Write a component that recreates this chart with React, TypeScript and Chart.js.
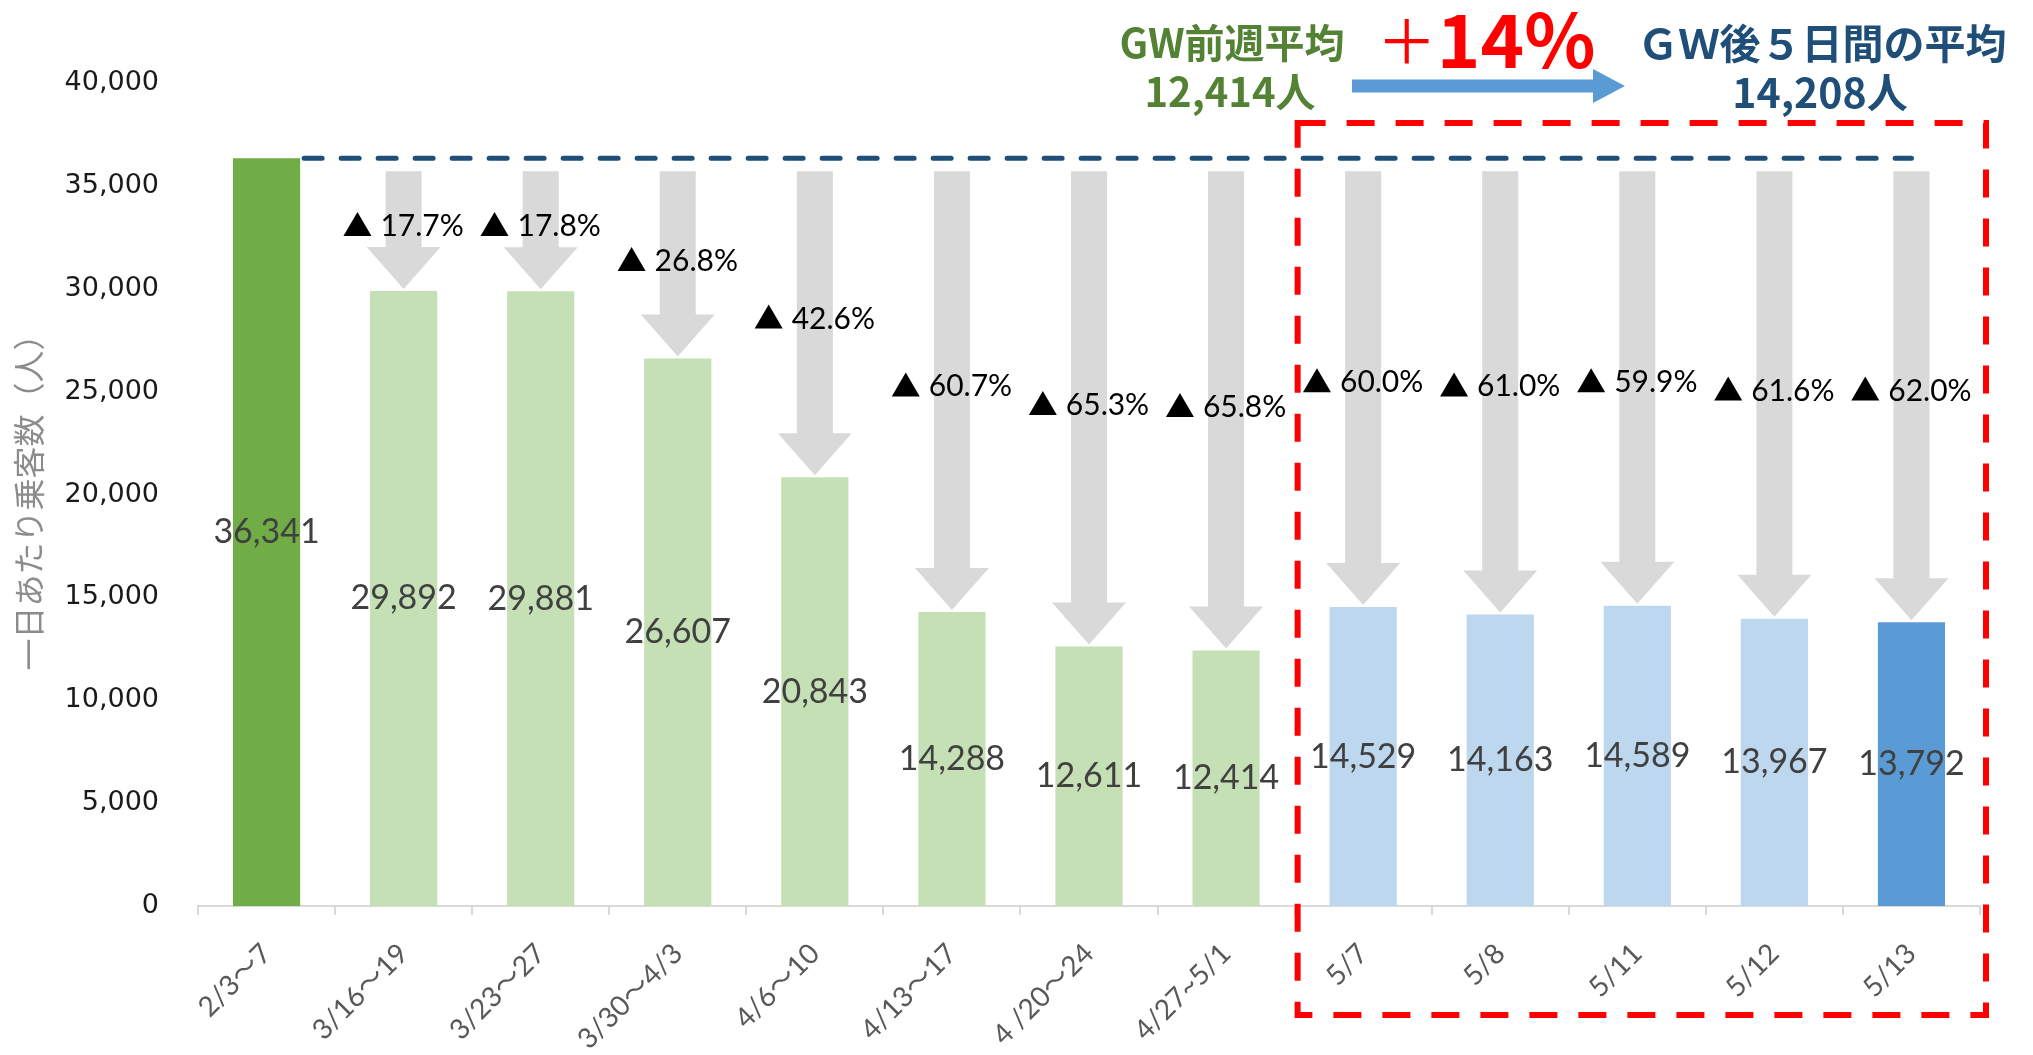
import React, { useEffect, useRef } from 'react';
import { Chart, registerables } from 'chart.js';

Chart.register(...registerables);

// ---- data ----
const categories = ['2/3～7', '3/16～19', '3/23～27', '3/30～4/3', '4/6～10', '4/13～17', '4 /20～24', '4/27~5/1', '5/7', '5/8', '5/11', '5/12', '5/13'];
const riders = [36341, 29892, 29881, 26607, 20843, 14288, 12611, 12414, 14529, 14163, 14589, 13967, 13792];
const dropPercents = [null, 17.7, 17.8, 26.8, 42.6, 60.7, 65.3, 65.8, 60.0, 61.0, 59.9, 61.6, 62.0];
const dropLabelLevels = [null, 33100, 33100, 31400, 28600, 25300, 24400, 24300, 25500, 25300, 25500, 25100, 25100];
const barColors = ['#70ad47', '#c5e0b4', '#c5e0b4', '#c5e0b4', '#c5e0b4', '#c5e0b4', '#c5e0b4', '#c5e0b4', '#bdd7ee', '#bdd7ee', '#bdd7ee', '#bdd7ee', '#5b9bd5'];
const yTickValues = [0, 5000, 10000, 15000, 20000, 25000, 30000, 35000, 40000];
const beforeLabel = 'GW前週平均';
const beforeAvg = 12414;
const afterLabel = 'ＧＷ後５日間の平均';
const afterAvg = 14208;
const changePct = 14;
const yTitle = '一日あたり乗客数（人）';

const W = 2033;
const H = 1055;
const fmt = (v: number) => v.toLocaleString('en-US');

const overlayPlugin = {
  id: 'overlay',
  beforeDatasetsDraw(chart: any) {
    const { ctx, scales } = chart;
    const x = scales.x;
    const y = scales.y;
    const baseY = y.getPixelForValue(riders[0]);
    ctx.save();
    ctx.fillStyle = '#d9d9d9';
    const shaftW = 36;
    const headW = 74;
    const headH = 42;
    for (let i = 1; i < riders.length; i++) {
      const cx = x.getPixelForValue(i);
      const top = baseY + 13;
      const tip = y.getPixelForValue(riders[i]) - 2;
      ctx.beginPath();
      ctx.moveTo(cx - shaftW / 2, top);
      ctx.lineTo(cx + shaftW / 2, top);
      ctx.lineTo(cx + shaftW / 2, tip - headH);
      ctx.lineTo(cx + headW / 2, tip - headH);
      ctx.lineTo(cx, tip);
      ctx.lineTo(cx - headW / 2, tip - headH);
      ctx.lineTo(cx - shaftW / 2, tip - headH);
      ctx.closePath();
      ctx.fill();
    }
    ctx.restore();
  },
  afterDatasetsDraw(chart: any) {
    const { ctx, scales, chartArea } = chart;
    const x = scales.x;
    const y = scales.y;
    const meta = chart.getDatasetMeta(0);
    ctx.save();

    // dashed reference line at first bar level
    const first = meta.data[0];
    const refY = y.getPixelForValue(riders[0]);
    ctx.strokeStyle = '#1f4e79';
    ctx.lineWidth = 5;
    ctx.lineCap = 'round';
    ctx.setLineDash([18, 19]);
    ctx.beginPath();
    ctx.moveTo(first.x + first.width / 2 + 4, refY);
    ctx.lineTo(x.getPixelForValue(riders.length - 1), refY);
    ctx.stroke();
    ctx.setLineDash([]);
    ctx.lineCap = 'butt';

    // value labels in bars
    ctx.fillStyle = '#404040';
    ctx.font = '34px Lato, "Noto Sans", sans-serif';
    ctx.textAlign = 'center';
    ctx.textBaseline = 'middle';
    meta.data.forEach((bar: any, i: number) => {
      ctx.fillText(fmt(riders[i]), bar.x, (bar.y + bar.base) / 2);
    });

    // percentage drop labels
    ctx.font = '30px Lato, "Noto Sans", sans-serif';
    ctx.textAlign = 'left';
    ctx.textBaseline = 'alphabetic';
    for (let i = 1; i < riders.length; i++) {
      const p = dropPercents[i];
      const lvl = dropLabelLevels[i];
      if (p == null || lvl == null) continue;
      const text = p.toFixed(1) + '%';
      const tw = ctx.measureText(text).width;
      const triW = 28;
      const gap = 9;
      const total = triW + gap + tw;
      const cx = x.getPixelForValue(i);
      const cy = y.getPixelForValue(lvl);
      const sx = cx - total / 2;
      const base = cy + 11;
      ctx.fillStyle = '#000000';
      ctx.beginPath();
      ctx.moveTo(sx, base);
      ctx.lineTo(sx + triW, base);
      ctx.lineTo(sx + triW / 2, base - 24);
      ctx.closePath();
      ctx.fill();
      ctx.fillText(text, sx + triW + gap, base);
    }

    // red dashed frame around post-GW days
    const left = (x.getPixelForValue(7) + x.getPixelForValue(8)) / 2 + 3;
    ctx.strokeStyle = '#ff0000';
    ctx.lineWidth = 6;
    ctx.setLineDash([28, 21]);
    ctx.strokeRect(left, 123, chartArea.right + 6 - left, 1015 - 123);
    ctx.setLineDash([]);
    ctx.restore();
  },
  afterDraw(chart: any) {
    const { ctx } = chart;
    ctx.save();
    ctx.textAlign = 'center';
    ctx.textBaseline = 'middle';
    const cjk = '"Noto Sans CJK JP", "Noto Sans", sans-serif';

    ctx.fillStyle = '#548235';
    ctx.font = `bold 40px ${cjk}`;
    ctx.fillText(beforeLabel, 1232, 43);
    ctx.fillText(fmt(beforeAvg) + '人', 1230, 92);

    ctx.fillStyle = '#1f4e79';
    ctx.font = `bold 41px ${cjk}`;
    ctx.fillText(afterLabel, 1822, 43);
    ctx.fillText(fmt(afterAvg) + '人', 1820, 92);

    // +14%
    ctx.fillStyle = '#ff0000';
    ctx.textAlign = 'left';
    ctx.textBaseline = 'alphabetic';
    ctx.font = `60px ${cjk}`;
    const plus = '＋';
    const pw = ctx.measureText(plus).width;
    ctx.font = `bold 72px ${cjk}`;
    const numText = changePct + '%';
    const nw = ctx.measureText(numText).width;
    const startX = 1484 - (pw + nw) / 2;
    ctx.font = `60px ${cjk}`;
    ctx.fillText(plus, startX, 64);
    ctx.font = `bold 74px ${cjk}`;
    ctx.fillText(numText, startX + pw, 68);

    // blue arrow
    ctx.fillStyle = '#5b9bd5';
    const ax0 = 1352, ax1 = 1625, ay = 86, th = 13, hl = 32, hh = 34;
    ctx.beginPath();
    ctx.moveTo(ax0, ay - th / 2);
    ctx.lineTo(ax1 - hl, ay - th / 2);
    ctx.lineTo(ax1 - hl, ay - hh / 2);
    ctx.lineTo(ax1, ay);
    ctx.lineTo(ax1 - hl, ay + hh / 2);
    ctx.lineTo(ax1 - hl, ay + th / 2);
    ctx.lineTo(ax0, ay + th / 2);
    ctx.closePath();
    ctx.fill();
    ctx.restore();
  },
};

export default function App() {
  const canvasRef = useRef<HTMLCanvasElement | null>(null);

  useEffect(() => {
    const canvas = canvasRef.current;
    if (!canvas) return;
    const chart = new Chart(canvas, {
      type: 'bar',
      data: {
        labels: categories,
        datasets: [
          {
            data: riders,
            backgroundColor: barColors,
            borderWidth: 0,
            barPercentage: 0.49,
            categoryPercentage: 1,
          },
        ],
      },
      options: {
        responsive: false,
        animation: false,
        devicePixelRatio: 1,
        layout: { padding: { top: 83, right: 53, bottom: 0, left: 0 } },
        plugins: {
          legend: { display: false },
          tooltip: { enabled: false },
          title: { display: false },
        },
        scales: {
          x: {
            afterFit: (s: any) => {
              s.height = 149;
            },
            grid: {
              display: true,
              drawOnChartArea: false,
              drawTicks: true,
              tickLength: 9,
              color: '#d9d9d9',
              lineWidth: 2,
              offset: true,
            },
            border: { display: true, color: '#d9d9d9', width: 2 },
            ticks: {
              autoSkip: false,
              minRotation: 45,
              maxRotation: 45,
              padding: 22,
              color: '#595959',
              font: { family: 'Lato, "Noto Sans CJK JP", sans-serif', size: 28 },
            },
          },
          y: {
            min: 0,
            max: 40000,
            afterFit: (s: any) => {
              s.width = 198;
            },
            afterBuildTicks: (s: any) => {
              s.ticks = yTickValues.map((v) => ({ value: v }));
            },
            grid: { display: false },
            border: { display: false },
            ticks: {
              padding: 31,
              color: '#1a1a1a',
              font: { family: '"DejaVu Sans", sans-serif', size: 27 },
              callback: (v: any) => fmt(Number(v)),
            },
            title: {
              display: true,
              text: yTitle,
              color: '#8c8c8c',
              font: { family: '"Noto Sans CJK JP", sans-serif', size: 32 },
              padding: { top: 10, bottom: 0 },
            },
          },
        },
      },
      plugins: [overlayPlugin],
    });
    return () => chart.destroy();
  }, []);

  return (
    <div style={{ position: 'fixed', left: 0, top: 0, width: W, height: H, background: '#ffffff' }}>
      <canvas ref={canvasRef} width={W} height={H} style={{ display: 'block', width: W, height: H }} />
    </div>
  );
}
